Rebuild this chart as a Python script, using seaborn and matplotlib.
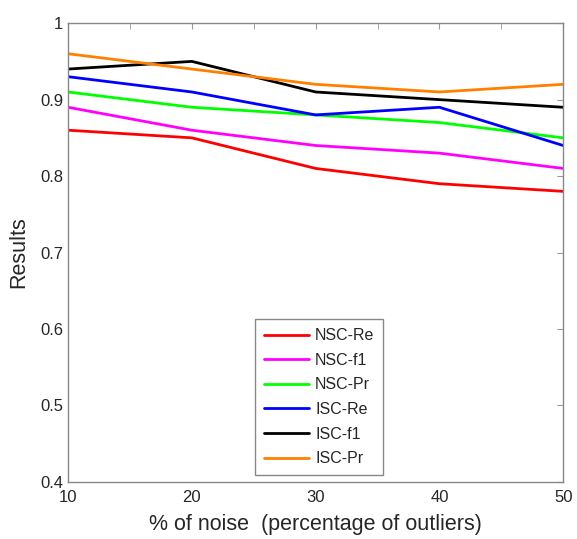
import matplotlib
matplotlib.use('Agg')
import matplotlib.pyplot as plt
import pandas as pd
import seaborn as sns
from matplotlib.ticker import MultipleLocator

# 데이터
noise = [10, 20, 30, 40, 50]
nsc_re = [0.86, 0.85, 0.81, 0.79, 0.78]
nsc_f1 = [0.89, 0.86, 0.84, 0.83, 0.81]
nsc_pr = [0.91, 0.89, 0.88, 0.87, 0.85]
isc_re = [0.93, 0.91, 0.88, 0.89, 0.84]
isc_f1 = [0.94, 0.95, 0.91, 0.90, 0.89]
isc_pr = [0.96, 0.94, 0.92, 0.91, 0.92]

series_names = ['NSC-Re', 'NSC-f1', 'NSC-Pr', 'ISC-Re', 'ISC-f1', 'ISC-Pr']
series_colors = ['#ff0000', '#ff00ff', '#00ff00', '#0000ff', '#000000', '#ff8000']

y_ticks = [0.4, 0.5, 0.6, 0.7, 0.8, 0.9, 1.0]
y_tick_labels = ['0.4', '0.5', '0.6', '0.7', '0.8', '0.9', '1']
x_ticks = [10, 20, 30, 40, 50]

df = pd.DataFrame({'noise': noise, 'NSC-Re': nsc_re, 'NSC-f1': nsc_f1, 'NSC-Pr': nsc_pr,
                   'ISC-Re': isc_re, 'ISC-f1': isc_f1, 'ISC-Pr': isc_pr})
long_df = df.melt(id_vars='noise', var_name='series', value_name='result')

sns.set_style('white')
plt.rcParams['font.family'] = ['Liberation Sans', 'DejaVu Sans']

fig = plt.figure(figsize=(5.77, 5.39), dpi=100)
ax = fig.add_axes([0.118, 0.106, 0.858, 0.851])

sns.lineplot(data=long_df, x='noise', y='result', hue='series', hue_order=series_names,
             palette=series_colors, linewidth=2.0, ax=ax)

ax.set_xlim(10, 50)
ax.set_ylim(0.4, 1.0)
ax.set_xticks(x_ticks)
ax.xaxis.set_minor_locator(MultipleLocator(5))
ax.set_yticks(y_ticks)
ax.set_yticklabels(y_tick_labels)
ax.tick_params(which='both', direction='in', top=True, right=True, color='#999999',
               labelsize=12, length=4)
ax.tick_params(axis='x', pad=6)
for sp in ax.spines.values():
    sp.set_color('#888888')
    sp.set_linewidth(1.0)

ax.set_xlabel('% of noise  (percentage of outliers)', fontsize=15.5, labelpad=6)
ax.set_ylabel('Results', fontsize=15.5, labelpad=8)

leg = ax.legend(loc='lower left', bbox_to_anchor=(0.378, 0.015), fontsize=11.5,
                fancybox=False, framealpha=1, edgecolor='#888888', handlelength=2.8,
                labelspacing=0.6, borderpad=0.55, handletextpad=0.4, borderaxespad=0)
leg.get_frame().set_linewidth(1.0)

plt.savefig('out.png', dpi=100)
